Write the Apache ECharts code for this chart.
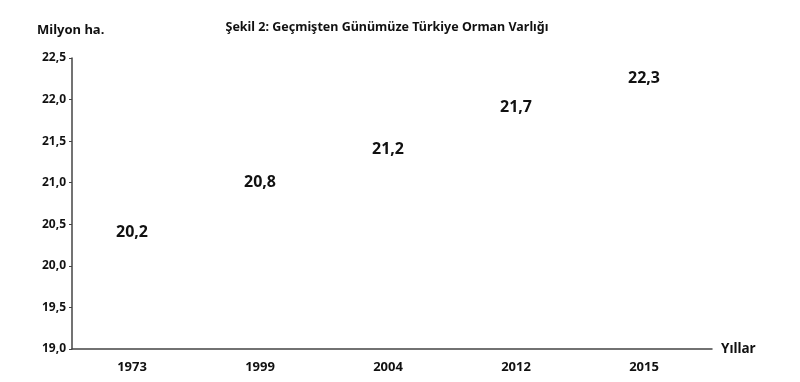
<!DOCTYPE html>
<html><head><meta charset="utf-8">
<script src="https://cdn.jsdelivr.net/npm/echarts@6/dist/echarts.min.js"></script>
<style>html,body{margin:0;padding:0;background:#fff}#c{width:800px;height:382px}</style>
</head><body><div id="c"></div>
<script>
const title = 'Şekil 2: Geçmişten Günümüze Türkiye Orman Varlığı';
const yAxisName = 'Milyon ha.';
const xAxisName = 'Yıllar';
const years = ['1973', '1999', '2004', '2012', '2015'];
const forestArea = [20.2, 20.8, 21.2, 21.7, 22.3];

const FONT = '"Noto Sans", sans-serif';
const fmt = v => v.toFixed(1).replace('.', ',');
const chart = echarts.init(document.getElementById('c'));
chart.setOption({
  animation: false,
  backgroundColor: '#fff',
  title: {
    text: title, left: 382, top: 16, textAlign: 'center',
    textStyle: { fontFamily: FONT, fontSize: 12.5, fontWeight: 'bold', color: '#111' }
  },
  graphic: [{
    type: 'text', left: 37, top: 24,
    style: { text: yAxisName, font: 'bold 13px ' + FONT, fill: '#111' }
  }],
  grid: { left: 72, right: 88, top: 58, bottom: 33 },
  xAxis: {
    type: 'category', data: years,
    name: xAxisName, nameLocation: 'end', nameGap: 9,
    nameTextStyle: { fontFamily: FONT, fontSize: 13.5, fontWeight: 'bold', color: '#111', verticalAlign: 'middle' },
    axisLine: { lineStyle: { color: '#444', width: 1.5 } },
    axisTick: { show: false },
    axisLabel: { margin: 12, padding: [0, 8, 0, 0], fontFamily: FONT, fontSize: 13, fontWeight: 'bold', color: '#111' }
  },
  yAxis: {
    type: 'value', min: 19, max: 22.5, interval: 0.5,
    axisLine: { show: true, lineStyle: { color: '#444', width: 1.5 } },
    axisTick: { show: true, length: 3, lineStyle: { color: '#444' } },
    splitLine: { show: false },
    axisLabel: { margin: 6, fontFamily: FONT, fontSize: 12, fontWeight: 'bold', color: '#111', formatter: fmt }
  },
  series: [{
    type: 'bar', barWidth: '60%',
    itemStyle: { color: 'rgba(0,0,0,0)' },
    data: forestArea.map((v, i) => ({
      value: v,
      label: i === forestArea.length - 1 ? { position: 'insideTop', distance: -4 } : undefined
    })),
    label: {
      show: true, position: 'top', distance: 9, offset: [-4, 0],
      fontFamily: FONT, fontSize: 16, fontWeight: 'bold', color: '#111',
      formatter: p => fmt(p.value)
    }
  }]
});
</script></body></html>
